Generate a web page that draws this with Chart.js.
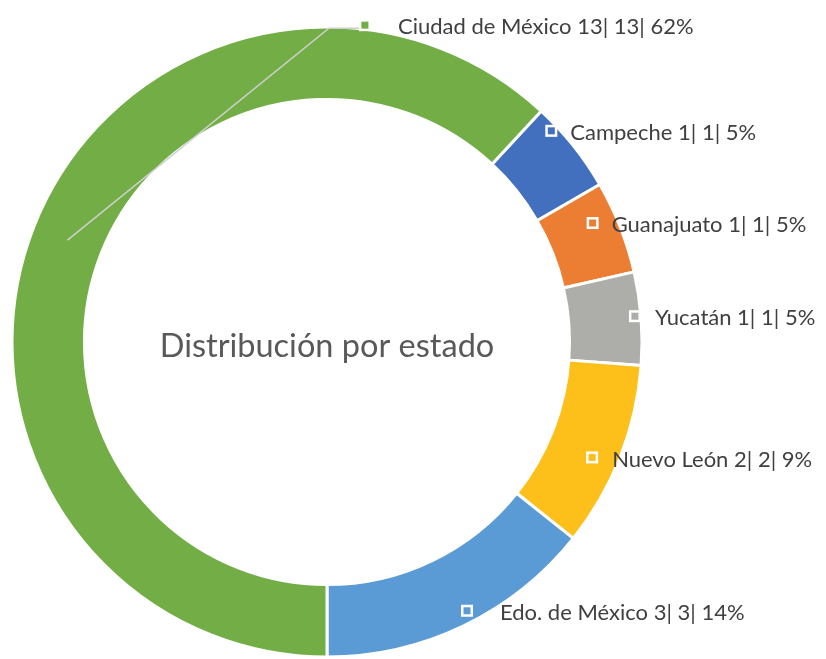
<!DOCTYPE html>
<html>
<head>
<meta charset="utf-8">
<script src="https://cdn.jsdelivr.net/npm/chart.js@4/dist/chart.umd.min.js"></script>
<style>
  body { margin: 0; background: #fff; }
</style>
</head>
<body>
<canvas id="donut" width="826" height="659"></canvas>
<script>
const states = ["Campeche", "Guanajuato", "Yucatán", "Nuevo León", "Edo. de México", "Ciudad de México"];
const counts = [1, 1, 1, 2, 3, 13];
const percents = [5, 5, 5, 9, 14, 62];
const centerTitle = "Distribución por estado";

const colors = ["#4270BF", "#EC7E33", "#ADADA9", "#FDBF1A", "#5B9BD5", "#72AE45"];

// where each label sits: angle shift from slice middle (deg), distance from centre as share of outer radius,
// gap between the key square and the text
const labelPlace = [
  { da: -4.7, rf: 0.978, gap: 19 },
  { da: -2.7, rf: 0.924, gap: 19 },
  { da: -0.5, rf: 0.981, gap: 20 },
  { da: 2.1, rf: 0.918, gap: 20 },
  { da: -1.8, rf: 0.962, gap: 33 },
  { da: 6.8 - 291.4, rf: 1.013, gap: 33, leader: true },
];

const total = counts.reduce((a, b) => a + b, 0);
// the big slice ends at the bottom of the ring
const startAngle = 180 - 360 * (total - counts[counts.length - 1]) / total;

const labelPlugin = {
  id: "donutLabels",
  afterDraw(chart) {
    const ctx = chart.ctx;
    const meta = chart.getDatasetMeta(0);
    const first = meta.data[0];
    const cx = first.x, cy = first.y;
    const R = first.outerRadius, r = first.innerRadius;

    ctx.save();
    ctx.fillStyle = "#595959";
    ctx.font = "32.5px Lato";
    ctx.textAlign = "center";
    ctx.textBaseline = "middle";
    ctx.fillText(centerTitle, cx, cy + 5);

    ctx.font = "22px Lato";
    ctx.textAlign = "left";
    meta.data.forEach((arc, i) => {
      const mid = (arc.startAngle + arc.endAngle) / 2;
      const a = mid + labelPlace[i].da * Math.PI / 180;
      const mx = cx + Math.cos(a) * R * labelPlace[i].rf;
      const my = cy + Math.sin(a) * R * labelPlace[i].rf;

      if (labelPlace[i].leader) {
        const rm = (R + r) / 2;
        ctx.strokeStyle = "#CFCFCF";
        ctx.lineWidth = 1.5;
        ctx.beginPath();
        ctx.moveTo(cx + Math.cos(mid) * rm, cy + Math.sin(mid) * rm);
        ctx.lineTo(mx - 36, my + 3);
        ctx.lineTo(mx - 6, my + 3);
        ctx.stroke();
      }

      ctx.fillStyle = "#ffffff";
      ctx.fillRect(mx - 6, my - 6, 12, 12);
      ctx.fillStyle = colors[i];
      ctx.fillRect(mx - 3.5, my - 3.5, 7, 7);

      ctx.fillStyle = "#404040";
      const txt = states[i] + " " + counts[i] + "| " + counts[i] + "| " + percents[i] + "%";
      ctx.fillText(txt, mx + labelPlace[i].gap, my + 2);
    });
    ctx.restore();
  },
};

new Chart(document.getElementById("donut"), {
  type: "doughnut",
  data: {
    labels: states,
    datasets: [{
      data: counts,
      backgroundColor: colors,
      borderColor: "#ffffff",
      borderWidth: 3,
    }],
  },
  options: {
    responsive: false,
    animation: false,
    cutout: "77%",
    rotation: startAngle,
    layout: { padding: { left: 10.5, top: 25.5, right: 182.5, bottom: 0.5 } },
    plugins: {
      legend: { display: false },
      tooltip: { enabled: false },
    },
  },
  plugins: [labelPlugin],
});
</script>
</body>
</html>
